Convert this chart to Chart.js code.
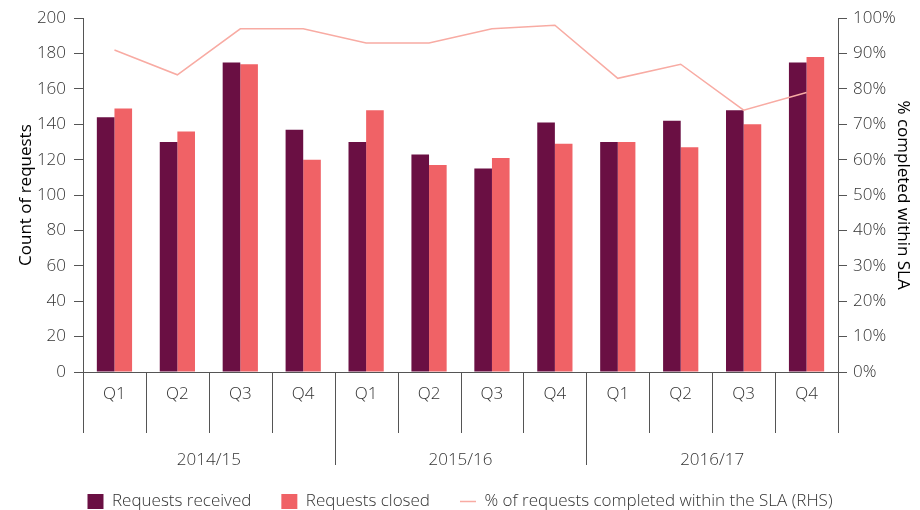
<!DOCTYPE html>
<html>
<head>
<meta charset="utf-8">
<script src="https://cdn.jsdelivr.net/npm/chart.js@4.4.0/dist/chart.umd.min.js"></script>
<style>
html, body { margin: 0; padding: 0; background: #fff; }
#wrap { width: 920px; height: 510px; position: relative; }
</style>
</head>
<body>
<div id="wrap"><canvas id="slaChart"></canvas></div>
<script>
const quarters = ["Q1", "Q2", "Q3", "Q4", "Q1", "Q2", "Q3", "Q4", "Q1", "Q2", "Q3", "Q4"];
const years = ["2014/15", "2015/16", "2016/17"];
const received = [144, 130, 175, 137, 130, 123, 115, 141, 130, 142, 148, 175];
const closed = [149, 136, 174, 120, 148, 117, 121, 129, 130, 127, 140, 178];
const slaPercent = [91, 84, 97, 97, 93, 93, 97, 98, 83, 87, 74, 79];

const FONT = "'Open Sans', 'Lato', sans-serif";
const textColor = "#333";
const axisColor = "#555";

// separators between quarters + year labels under the x axis
const yearGroups = {
    id: "yearGroups",
    afterDraw(chart) {
        const x = chart.scales.x;
        const ctx = chart.ctx;
        const step = x.getPixelForValue(1) - x.getPixelForValue(0);
        const top = x.top;
        ctx.save();
        ctx.strokeStyle = axisColor;
        ctx.lineWidth = 1;
        for (let i = 0; i <= quarters.length; i++) {
            const px = Math.round(x.getPixelForValue(i) - step / 2) + 0.5;
            const isYear = i % 4 === 0 && i > 0 && i < quarters.length;
            ctx.beginPath();
            ctx.moveTo(px, top);
            ctx.lineTo(px, top + (isYear ? 93 : 61));
            ctx.stroke();
        }
        ctx.fillStyle = textColor;
        ctx.font = "300 17px " + FONT;
        ctx.textAlign = "center";
        ctx.textBaseline = "middle";
        years.forEach((yr, k) => {
            const cx = (x.getPixelForValue(k * 4) + x.getPixelForValue(k * 4 + 3)) / 2;
            ctx.fillText(yr, cx, top + 88);
        });
        ctx.restore();
    }
};

const tickFont = { family: FONT, size: 17, weight: "300" };
const titleFont = { family: FONT, size: 17, weight: "normal" };

new Chart("slaChart", {
    type: "bar",
    data: {
        labels: quarters,
        datasets: [
            {
                label: "Requests received",
                data: received,
                backgroundColor: "#6a0f43",
                borderWidth: 0,
                pointStyle: "rect",
                yAxisID: "y",
                order: 1
            },
            {
                label: "Requests closed",
                data: closed,
                backgroundColor: "#f06266",
                borderWidth: 0,
                pointStyle: "rect",
                yAxisID: "y",
                order: 1
            },
            {
                type: "line",
                label: "% of requests completed within the SLA (RHS)",
                data: slaPercent,
                borderColor: "#f8aba3",
                backgroundColor: "#f8aba3",
                borderWidth: 1.5,
                pointRadius: 0,
                pointStyle: "line",
                tension: 0,
                yAxisID: "y1",
                order: 0
            }
        ]
    },
    options: {
        responsive: true,
        maintainAspectRatio: false,
        animation: false,
        layout: { padding: { top: 17, left: 0, right: 0, bottom: -10 } },
        datasets: {
            bar: { categoryPercentage: 0.56, barPercentage: 1 }
        },
        scales: {
            x: {
                grid: { display: false },
                border: { color: axisColor, width: 1 },
                ticks: { color: textColor, font: tickFont, padding: 4 },
                afterFit(scale) { scale.height = 91; }
            },
            y: {
                position: "left",
                min: 0,
                max: 200,
                ticks: { stepSize: 20, color: textColor, font: tickFont, padding: 8 },
                grid: { drawOnChartArea: false, drawTicks: true, tickLength: 9, color: axisColor },
                border: { color: axisColor, width: 1 },
                title: {
                    display: true,
                    text: "Count of requests",
                    color: "#000",
                    font: titleFont,
                    padding: { top: 16, bottom: 0 }
                },
                afterFit(scale) { scale.width = 83; }
            },
            y1: {
                position: "right",
                min: 0,
                max: 100,
                ticks: {
                    stepSize: 10,
                    color: textColor,
                    font: tickFont,
                    padding: 6,
                    callback: v => v + "%"
                },
                grid: { drawOnChartArea: false, drawTicks: true, tickLength: 9, color: axisColor },
                border: { color: axisColor, width: 1 },
                title: {
                    display: true,
                    text: "% completed within SLA",
                    color: "#000",
                    font: titleFont,
                    padding: { top: 7, bottom: 0 }
                },
                afterFit(scale) { scale.width = 82; }
            }
        },
        plugins: {
            legend: {
                position: "bottom",
                labels: {
                    usePointStyle: true,
                    pointStyleWidth: 16,
                    boxHeight: 15,
                    padding: 30,
                    color: textColor,
                    font: { family: FONT, size: 17, weight: "300" },
                    sort: (a, b) => a.datasetIndex - b.datasetIndex
                }
            },
            tooltip: { enabled: false }
        }
    },
    plugins: [yearGroups]
});
</script>
</body>
</html>
